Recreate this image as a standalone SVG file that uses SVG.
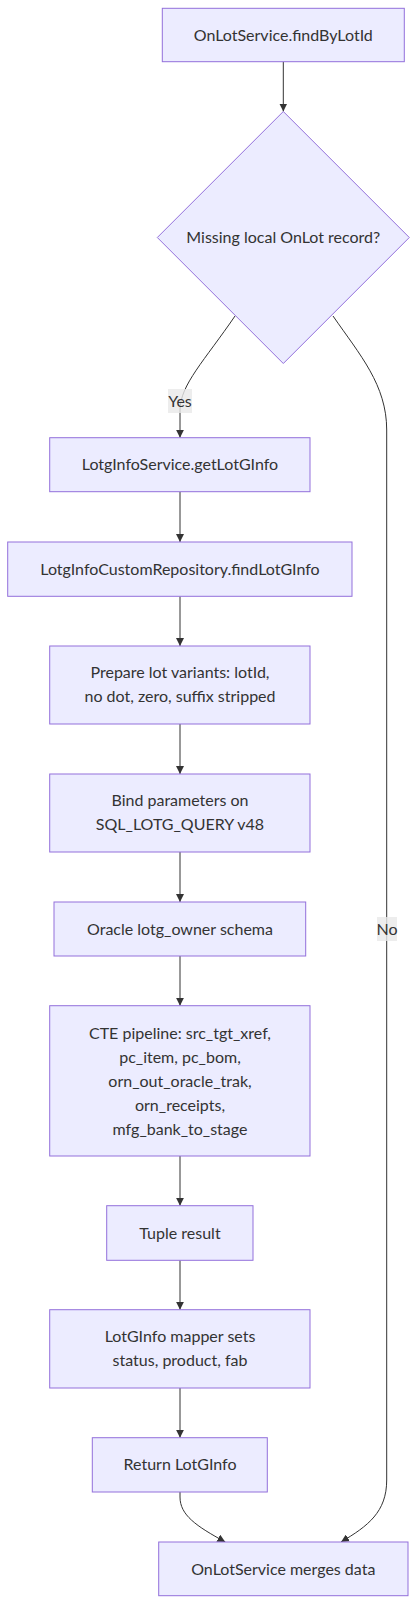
<svg xmlns="http://www.w3.org/2000/svg" width="418" height="1604" viewBox="0 0 418 1604">
<style>
.node rect,.node polygon{fill:#ECECFF;stroke:#9370DB;stroke-width:1px}
.node text{font-family:Lato,"Noto Sans",sans-serif;font-size:16px;fill:#333;text-anchor:middle}
.edge{fill:none;stroke:#333;stroke-width:1px}
.lbl rect{fill:#e8e8e8;opacity:0.8}
.lbl text{font-family:Lato,"Noto Sans",sans-serif;font-size:16px;fill:#333;text-anchor:middle}
</style>
<defs>
<marker id="arr" viewBox="0 0 10 10" refX="10" refY="5" markerWidth="8" markerHeight="8" markerUnits="userSpaceOnUse" orient="auto">
<path d="M0,0 L10,5 L0,10 z" fill="#333"/>
</marker>
</defs>
<g id="edges">
<path class="edge" d="M283.3,61.7 L283.3,111.5" marker-end="url(#arr)"/>
<path class="edge" d="M235,316 C205,360 180,385 180,410 L180,437.7" marker-end="url(#arr)"/>
<path class="edge" d="M333,316 C360,355 386.7,385 386.7,430 L386.7,1480 C386.7,1512 368,1526 341,1542" marker-end="url(#arr)"/>
<path class="edge" d="M180,491.7 L180,542" marker-end="url(#arr)"/>
<path class="edge" d="M180,596.3 L180,646" marker-end="url(#arr)"/>
<path class="edge" d="M180,724 L180,774" marker-end="url(#arr)"/>
<path class="edge" d="M180,852 L180,902" marker-end="url(#arr)"/>
<path class="edge" d="M180,956 L180,1005.7" marker-end="url(#arr)"/>
<path class="edge" d="M180,1156 L180,1205.7" marker-end="url(#arr)"/>
<path class="edge" d="M180,1260.3 L180,1309.7" marker-end="url(#arr)"/>
<path class="edge" d="M180,1388 L180,1437.7" marker-end="url(#arr)"/>
<path class="edge" d="M180,1492 L180,1497 C180,1515 196,1526 225.3,1542" marker-end="url(#arr)"/>
<g class="lbl"><rect x="168" y="389" width="24" height="24"/><text x="180" y="406.5">Yes</text></g>
<g class="lbl"><rect x="377" y="917" width="20" height="24"/><text x="387" y="934.5">No</text></g>
</g>
<g id="n1" class="node"><rect x="162.3" y="8.3" width="242" height="53.4"/><text x="283.3" y="40.5">OnLotService.findByLotId</text></g>
<g id="n2" class="node"><polygon points="283.3,111.5 409.3,237.5 283.3,363.5 157.3,237.5"/><text x="283.3" y="243">Missing local OnLot record?</text></g>
<g id="n3" class="node"><rect x="49.7" y="437.7" width="260.3" height="54"/><text x="180" y="470">LotgInfoService.getLotGInfo</text></g>
<g id="n4" class="node"><rect x="7.7" y="542" width="344.3" height="54.3"/><text x="180" y="574.5">LotgInfoCustomRepository.findLotGInfo</text></g>
<g id="n5" class="node"><rect x="49.7" y="646" width="260.3" height="78"/><text x="180" y="677.5">Prepare lot variants: lotId,</text><text x="180" y="701.5">no dot, zero, suffix stripped</text></g>
<g id="n6" class="node"><rect x="49.7" y="774" width="260.3" height="78"/><text x="180" y="805.5">Bind parameters on</text><text x="180" y="829.5">SQL_LOTG_QUERY v48</text></g>
<g id="n7" class="node"><rect x="54" y="902" width="251.7" height="54"/><text x="180" y="934.5">Oracle lotg_owner schema</text></g>
<g id="n8" class="node"><rect x="49.7" y="1005.7" width="260.3" height="150.3"/><text x="180" y="1038.5">CTE pipeline: src_tgt_xref,</text><text x="180" y="1062.5">pc_item, pc_bom,</text><text x="180" y="1086.5">orn_out_oracle_trak,</text><text x="180" y="1110.5">orn_receipts,</text><text x="180" y="1134.5">mfg_bank_to_stage</text></g>
<g id="n9" class="node"><rect x="106.7" y="1205.7" width="146.3" height="54.6"/><text x="180" y="1238.5">Tuple result</text></g>
<g id="n10" class="node"><rect x="49.7" y="1309.7" width="260.3" height="78.3"/><text x="180" y="1341.5">LotGInfo mapper sets</text><text x="180" y="1365.5">status, product, fab</text></g>
<g id="n11" class="node"><rect x="92.3" y="1437.7" width="175" height="54.3"/><text x="180" y="1470">Return LotGInfo</text></g>
<g id="n12" class="node"><rect x="158.7" y="1542" width="249.3" height="53.7"/><text x="283.3" y="1574.5">OnLotService merges data</text></g>
</svg>
